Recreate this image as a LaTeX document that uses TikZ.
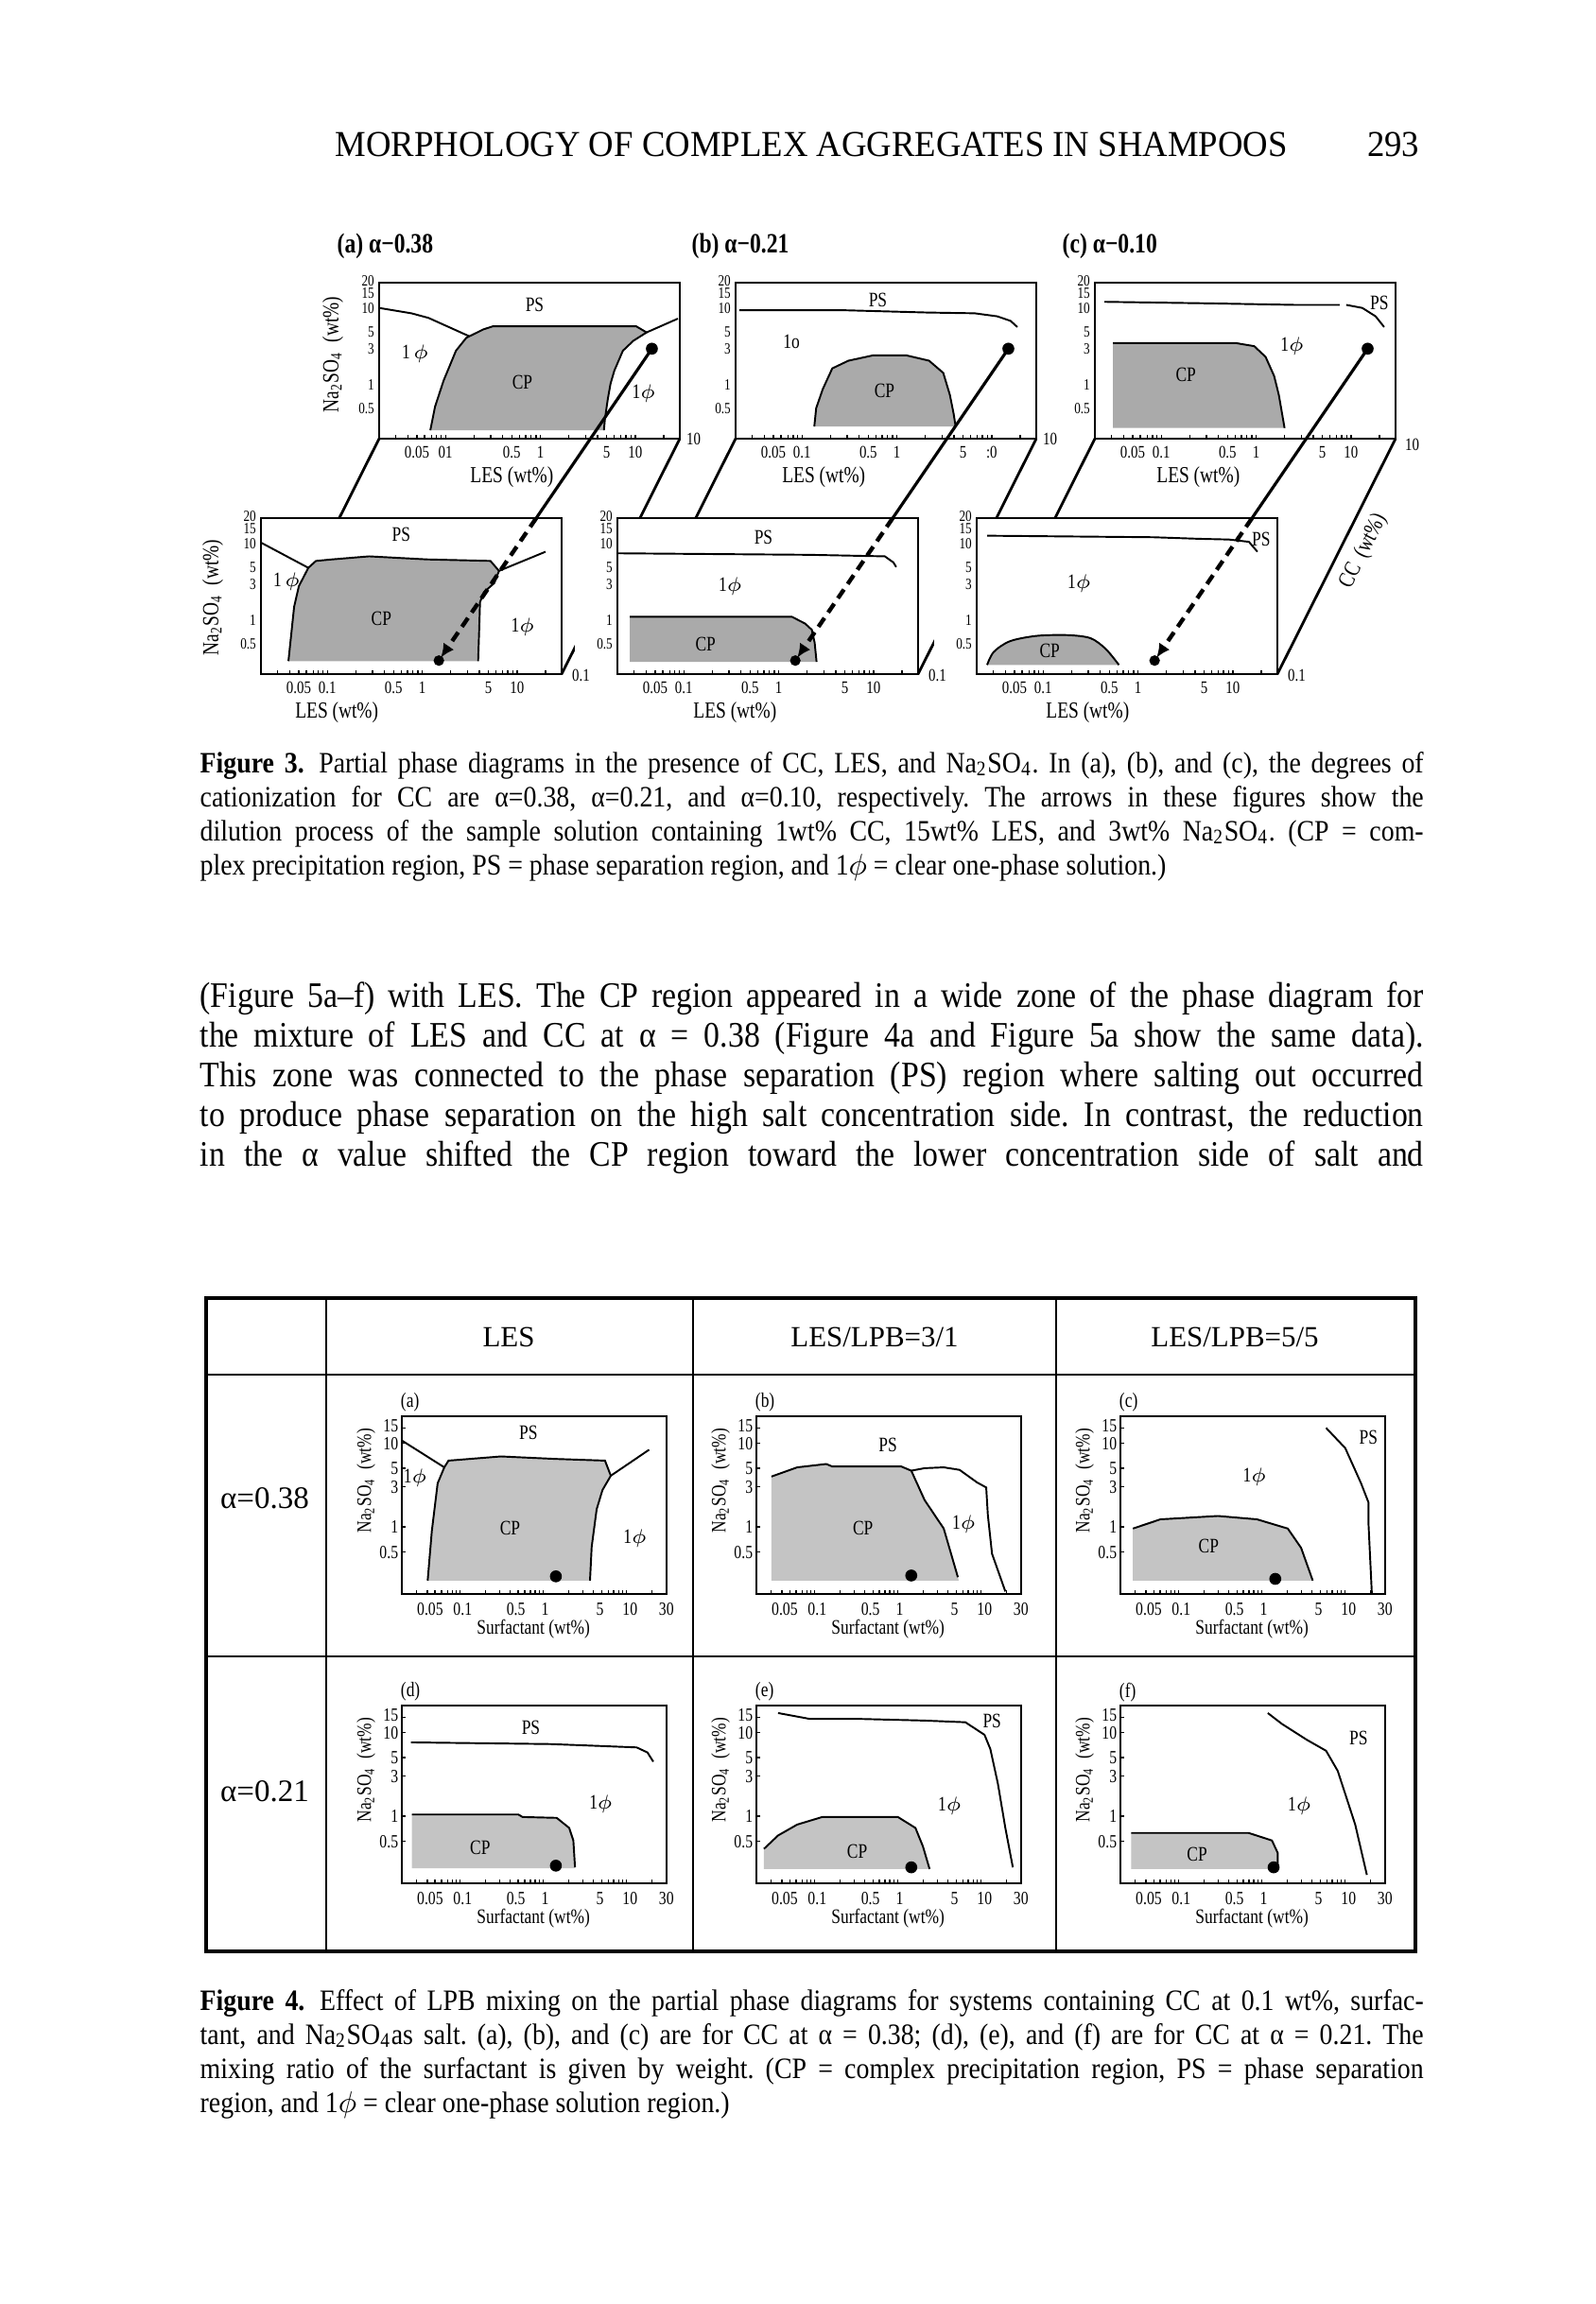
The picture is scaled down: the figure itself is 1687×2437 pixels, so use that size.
\documentclass[tikz,border=0pt]{standalone}
\usepackage{fontspec}
\setmainfont{Liberation Serif}
\newfontfamily\pagefont[FakeStretch=0.89]{Liberation Serif}
\newfontfamily\headfont[FakeStretch=0.95]{Liberation Serif}
\newfontfamily\figfont[FakeStretch=0.8]{Liberation Serif}
\usetikzlibrary{arrows.meta}
\definecolor{cpA}{RGB}{170,170,170}
\definecolor{cpB}{RGB}{196,196,196}
\frenchspacing
\newcommand{\phz}{\ensuremath{\phi}}
\newcommand{\ftxticks}[1]{\foreach \m in {0.02,0.03,0.04,0.05,0.06,0.07,0.08,0.09,0.1,0.2,0.3,0.4,0.5,0.6,0.7,0.8,0.9,1,2,3,4,5,6,7,8,9,10,20,30}{\draw[tickln] ({log10(\m)},#1) -- ++(0,0.05);}}
\newcommand{\fthreebox}{%
 \draw[frm] (-1.7,-0.70) rectangle (1.47,1.34);
 \ftxticks{-0.70}
 \foreach \v/\t in {1.37/20,1.20/15,1.01/10,0.699/5,0.477/3,0/1,-0.301/0.5}{\node[tkl,anchor=east] at (-1.73,\v) {\t};}}
\newcommand{\fthreexl}[1]{\foreach \u/\t in {#1}{\node[tkx,anchor=north] at (\u,-0.78) {\t};}}
\newcommand{\ffourbox}[1]{%
 \draw[frm] (-1.7,-0.80) rectangle (1.48,1.32);
 \ftxticks{-0.80}
 \foreach \v/\t in {1.176/15,1/10,0.699/5,0.477/3,0/1,-0.301/0.5}{\draw[tickln] (-1.7,\v) -- ++(0.05,0);}
 \foreach \v/\t in {1.20/15,0.99/10,0.699/5,0.477/3,0/1,-0.301/0.5}{\node[tkf,anchor=east] at (-1.72,\v) {\t};}
 \foreach \u/\t in {-1.36/0.05,-0.97/0.1,-0.33/0.5,0.02/1,0.68/5,1.04/10,1.477/30}{\node[tkf,anchor=north] at (\u,-0.88) {\t};}
 \node[axt4] at (-0.12,-1.22) {Surfactant (wt\%)};
 \node[axt4,rotate=90] at (-2.13,0.55) {Na\textsubscript{2}SO\textsubscript{4}\ \ (wt\%)};
 \node[axt4,anchor=west] at (-1.72,1.48) {(#1)};}
\begin{document}
\begin{tikzpicture}[x=0.1mm,y=-0.1mm,
 frm/.style={draw,line width=0.65pt},
 bnd/.style={line width=0.55pt},
 tickln/.style={line width=0.4pt},
 tkl/.style={font=\figfont\fontsize{4.7}{5}\selectfont,inner sep=0.4pt},
 tkx/.style={font=\figfont\fontsize{5.3}{6}\selectfont,inner sep=0.4pt},
 tkf/.style={font=\figfont\fontsize{5.6}{6}\selectfont,inner sep=0.4pt},
 reg/.style={font=\figfont\fontsize{6.2}{7}\selectfont,inner sep=0},
 axt/.style={font=\figfont\fontsize{6.9}{8}\selectfont,inner sep=0},
 axt4/.style={font=\figfont\fontsize{6.2}{7}\selectfont,inner sep=0},
 ttl/.style={font=\figfont\bfseries\fontsize{8.4}{9}\selectfont,inner sep=0,anchor=west},
 dep/.style={line width=0.8pt},
 dil/.style={line width=0.9pt},
 dild/.style={line width=1.25pt,dash pattern=on 3.2pt off 2pt,-{Latex[length=4.2pt,width=3.8pt]},shorten >=1pt},
 pgtxt/.style={font=\pagefont\fontsize{10.8}{12}\selectfont,inner sep=0,anchor=base west},
 captxt/.style={font=\pagefont\fontsize{8.9}{10}\selectfont,inner sep=0,anchor=base west},
 hdr/.style={font=\fontsize{8.8}{10}\selectfont,inner sep=0},
 dotf/.style={fill=black}]
\useasboundingbox (0,0) rectangle (1687,2437);
\fill[white] (0,0) rectangle (1687,2437);

% ---------- running head ----------
\node[font=\headfont\fontsize{11}{12}\selectfont,inner sep=0,anchor=base west] (head) at (354,166) {MORPHOLOGY OF COMPLEX AGGREGATES IN SHAMPOOS};
\node[font=\headfont\fontsize{11}{12}\selectfont,inner sep=0,anchor=base east] (pno) at (1502,166) {293};

% ---------- Figure 3 titles ----------
\node[ttl] (ta) at (356,260) {(a) α−0.38};
\node[ttl] (tb) at (731,260) {(b) α−0.21};
\node[ttl] (tc) at (1123,260) {(c) α−0.10};
\node[axt,rotate=90] (ya) at (352,375) {Na\textsubscript{2}SO\textsubscript{4}\ \ (wt\%)};

% upper a
\begin{scope}[shift={(571.5,407.4)},x={(100.32,0)},y={(0,-80.88)}]
 \fill[cpA] (-1.16,-0.59) -- (-1.11,-0.28) -- (-1.02,0.06) -- (-0.89,0.45) -- (-0.78,0.62) -- (-0.60,0.73) -- (-0.50,0.77) -- (1.01,0.77) -- (1.12,0.69) -- (0.98,0.58) -- (0.87,0.45) -- (0.78,0.19) -- (0.74,0.02) -- (0.71,-0.19) -- (0.68,-0.45) -- (0.67,-0.59) -- cycle;
 \draw[bnd] (-1.16,-0.59) -- (-1.11,-0.28) -- (-1.02,0.06) -- (-0.89,0.45) -- (-0.78,0.62) -- (-0.60,0.73) -- (-0.50,0.77) -- (1.01,0.77) -- (1.12,0.69) -- (0.98,0.58) -- (0.87,0.45) -- (0.78,0.19) -- (0.74,0.02) -- (0.71,-0.19) -- (0.68,-0.45) -- (0.67,-0.59);
 \draw[bnd] (-1.70,1.01) -- (-1.36,0.94) -- (-1.18,0.88) -- (-0.75,0.64);
 \draw[bnd] (1.12,0.69) -- (1.45,0.87);
 \fthreebox
 \fthreexl{-1.301/0.05,-1/01,-0.301/0.5,0/1,0.699/5,1/10}
 \node[axt] at (-0.30,-1.2) {LES (wt\%)};
 \node[reg] at (-0.06,1.05) {PS};
 \node[reg] at (-1.32,0.41) {1\,\phz};
 \node[reg] at (-0.19,0.04) {CP};
 \node[reg] at (1.09,-0.11) {1\phz};
 \coordinate (dUa) at (1.176,0.477);
 \coordinate (UaBL) at (-1.7,-0.70); \coordinate (UaBR) at (1.47,-0.70);
 \node[tkx,anchor=west] at (1.52,-0.70) {10};
\end{scope}

% upper b
\begin{scope}[shift={(948.5,407.4)},x={(100.32,0)},y={(0,-80.88)}]
 \fill[cpA] (-0.87,-0.54) -- (-0.85,-0.30) -- (-0.78,-0.05) -- (-0.68,0.22) -- (-0.51,0.32) -- (-0.25,0.39) -- (0.10,0.39) -- (0.34,0.32) -- (0.49,0.16) -- (0.56,-0.13) -- (0.60,-0.38) -- (0.62,-0.54) -- cycle;
 \draw[bnd] (-0.87,-0.54) -- (-0.85,-0.30) -- (-0.78,-0.05) -- (-0.68,0.22) -- (-0.51,0.32) -- (-0.25,0.39) -- (0.10,0.39) -- (0.34,0.32) -- (0.49,0.16) -- (0.56,-0.13) -- (0.60,-0.38) -- (0.62,-0.54);
 \draw[bnd] (-1.66,0.98) -- (-0.56,0.98) -- (0.32,0.95) -- (0.82,0.94) -- (1.06,0.90) -- (1.20,0.84) -- (1.27,0.76);
 \fthreebox
 \fthreexl{-1.301/0.05,-1/0.1,-0.301/0.5,0/1,0.699/5,1/:0}
 \node[axt] at (-0.77,-1.2) {LES (wt\%)};
 \node[reg] at (-0.20,1.11) {PS};
 \node[reg] at (-1.11,0.57) {1o};
 \node[reg] at (-0.13,-0.07) {CP};
 \coordinate (dUb) at (1.176,0.477);
 \coordinate (UbBL) at (-1.7,-0.70); \coordinate (UbBR) at (1.47,-0.70);
 \node[tkx,anchor=west] at (1.52,-0.70) {10};
\end{scope}

% upper c
\begin{scope}[shift={(1328.5,407.4)},x={(100.32,0)},y={(0,-80.88)}]
 \fill[cpA] (-1.51,-0.56) -- (-1.51,0.55) -- (-0.21,0.55) -- (-0.02,0.51) -- (0.10,0.37) -- (0.19,0.12) -- (0.24,-0.13) -- (0.30,-0.56) -- cycle;
 \draw[bnd] (-1.51,0.55) -- (-0.21,0.55) -- (-0.02,0.51) -- (0.10,0.37) -- (0.19,0.12) -- (0.24,-0.13) -- (0.30,-0.56);
 \draw[bnd] (-1.60,1.09) -- (-0.5,1.07) -- (0.40,1.05) -- (0.88,1.05);
 \draw[bnd] (0.95,1.05) -- (1.12,1.01) -- (1.26,0.90) -- (1.35,0.76);
 \fthreebox
 \fthreexl{-1.301/0.05,-1/0.1,-0.301/0.5,0/1,0.699/5,1/10}
 \node[axt] at (-0.61,-1.2) {LES (wt\%)};
 \node[reg] at (1.30,1.07) {PS};
 \node[reg] at (0.38,0.51) {1\phz};
 \node[reg] at (-0.74,0.14) {CP};
 \coordinate (dUc) at (1.176,0.477);
 \coordinate (UcBL) at (-1.7,-0.70); \coordinate (UcBR) at (1.47,-0.70);
 \node[tkx,anchor=west] at (1.55,-0.78) {10};
\end{scope}

% depth lines (back plane to front plane)
\draw[dep] (UaBL) -- (276,713);
\draw[dep] (UaBR) -- (594,713);
\draw[dep] (UbBL) -- (653,713);
\draw[dep] (UbBR) -- (971,713);
\draw[dep] (UcBL) -- (1033,713);
\draw[dep] (UcBR) -- (1351,713);
\node[axt,rotate=63.3] (ccl) at (1442,583) {CC\ \ (wt\%)};

% opaque lower panels
\fill[white] (231,548) rectangle (594,775);
\fill[white] (608,548) rectangle (971,775);
\fill[white] (988,548) rectangle (1351,775);

\node[axt,rotate=90] (yb) at (225,632) {Na\textsubscript{2}SO\textsubscript{4}\ \ (wt\%)};

% lower a
\begin{scope}[shift={(446.5,656.4)},x={(100.32,0)},y={(0,-80.88)}]
 \fill[cpA] (-1.41,-0.53) -- (-1.35,0.18) -- (-1.30,0.45) -- (-1.20,0.69) -- (-1.12,0.78) -- (-0.95,0.80) -- (-0.56,0.84) -- (0.05,0.80) -- (0.72,0.78) -- (0.81,0.65) -- (0.76,0.49) -- (0.65,0.37) -- (0.61,0.24) -- (0.60,-0.16) -- (0.59,-0.53) -- cycle;
 \draw[bnd] (-1.41,-0.53) -- (-1.35,0.18) -- (-1.30,0.45) -- (-1.20,0.69) -- (-1.12,0.78) -- (-0.95,0.80) -- (-0.56,0.84) -- (0.05,0.80) -- (0.72,0.78) -- (0.81,0.65) -- (0.76,0.49) -- (0.65,0.37) -- (0.61,0.24) -- (0.60,-0.16) -- (0.59,-0.53);
 \draw[bnd] (-1.70,1.02) -- (-1.20,0.69);
 \draw[bnd] (0.81,0.65) -- (1.30,0.90);
 \fthreebox
 \fthreexl{-1.301/0.05,-1/0.1,-0.301/0.5,0/1,0.699/5,1/10}
 \node[axt] at (-0.90,-1.2) {LES (wt\%)};
 \node[reg] at (-0.22,1.12) {PS};
 \node[reg] at (-1.43,0.51) {1\,\phz};
 \node[reg] at (-0.43,0.02) {CP};
 \node[reg] at (1.06,-0.08) {1\phz};
 \coordinate (dLa) at (0.176,-0.523);
 \coordinate (LaTL) at (-1.7,1.34); \coordinate (LaTR) at (1.47,1.34);
 \node[tkx,anchor=west] at (1.56,-0.72) {0.1};
\end{scope}

% lower b
\begin{scope}[shift={(823.5,656.4)},x={(100.32,0)},y={(0,-80.88)}]
 \fill[cpA] (-1.57,-0.54) -- (-1.57,0.05) -- (0.14,0.05) -- (0.28,-0.04) -- (0.35,-0.12) -- (0.38,-0.29) -- (0.40,-0.54) -- cycle;
 \draw[bnd] (-1.57,0.05) -- (0.14,0.05) -- (0.28,-0.04) -- (0.35,-0.12) -- (0.38,-0.29) -- (0.40,-0.54);
 \draw[bnd] (-1.70,0.88) -- (0.33,0.86) -- (1.12,0.84) -- (1.21,0.76) -- (1.24,0.70);
 \fthreebox
 \fthreexl{-1.301/0.05,-1/0.1,-0.301/0.5,0/1,0.699/5,1/10}
 \node[axt] at (-0.46,-1.2) {LES (wt\%)};
 \node[reg] at (-0.16,1.09) {PS};
 \node[reg] at (-0.51,0.45) {1\phz};
 \node[reg] at (-0.77,-0.31) {CP};
 \coordinate (dLb) at (0.176,-0.523);
 \coordinate (LbTL) at (-1.7,1.34); \coordinate (LbTR) at (1.47,1.34);
 \node[tkx,anchor=west] at (1.56,-0.72) {0.1};
\end{scope}

% lower c
\begin{scope}[shift={(1203.5,656.4)},x={(100.32,0)},y={(0,-80.88)}]
 \fill[cpA] plot[smooth] coordinates {(-1.59,-0.58) (-1.52,-0.41) (-1.35,-0.27) (-1.07,-0.20) (-0.74,-0.19) (-0.50,-0.23) (-0.34,-0.37) (-0.20,-0.58)} -- cycle;
 \draw[bnd] plot[smooth] coordinates {(-1.59,-0.58) (-1.52,-0.41) (-1.35,-0.27) (-1.07,-0.20) (-0.74,-0.19) (-0.50,-0.23) (-0.34,-0.37) (-0.20,-0.58)};
 \draw[bnd] (-1.59,1.11) -- (0.16,1.09) -- (0.63,1.07) -- (0.96,1.06) -- (1.17,1.03) -- (1.26,0.90);
 \fthreebox
 \fthreexl{-1.301/0.05,-1/0.1,-0.301/0.5,0/1,0.699/5,1/10}
 \node[axt] at (-0.53,-1.2) {LES (wt\%)};
 \node[reg] at (1.30,1.06) {PS};
 \node[reg] at (-0.62,0.49) {1\phz};
 \node[reg] at (-0.93,-0.39) {CP};
 \coordinate (dLc) at (0.176,-0.523);
 \coordinate (LcTL) at (-1.7,1.34); \coordinate (LcTR) at (1.47,1.34);
 \node[tkx,anchor=west] at (1.56,-0.72) {0.1};
\end{scope}

% dilution paths
\coordinate (xa) at (intersection of dUa--dLa and LaTL--LaTR);
\coordinate (xb) at (intersection of dUb--dLb and LbTL--LbTR);
\coordinate (xc) at (intersection of dUc--dLc and LcTL--LcTR);
\draw[dil] (dUa) -- (xa); \draw[dild] (xa) -- (dLa);
\draw[dil] (dUb) -- (xb); \draw[dild] (xb) -- (dLb);
\draw[dil] (dUc) -- (xc); \draw[dild] (xc) -- (dLc);
\foreach \d in {dUa,dUb,dUc}{\fill[dotf] (\d) circle[radius=1.8pt];}
\foreach \d in {dLa,dLb,dLc}{\fill[dotf] (\d) circle[radius=1.6pt];}

% ---------- Figure 3 caption ----------
\node[captxt] (c31) at (211,817) {\hbox to 129.4mm{\textbf{Figure 3.}\enspace Partial phase diagrams in the presence of CC, LES, and Na\textsubscript{2}SO\textsubscript{4}. In (a), (b), and (c), the degrees of}};
\node[captxt] (c32) at (211,853) {\hbox to 129.4mm{cationization for CC are α=0.38, α=0.21, and α=0.10, respectively. The arrows in these figures show the}};
\node[captxt] (c33) at (211,889) {\hbox to 129.4mm{dilution process of the sample solution containing 1wt\% CC, 15wt\% LES, and 3wt\% Na\textsubscript{2}SO\textsubscript{4}. (CP = com-}};
\node[captxt] (c34) at (211,925) {plex precipitation region, PS = phase separation region, and 1\phz{} = clear one-phase solution.)};

% ---------- body text ----------
\node[pgtxt] (b1) at (211,1065) {\hbox to 129.4mm{(Figure 5a–f) with LES. The CP region appeared in a wide zone of the phase diagram for}};
\node[pgtxt] (b2) at (211,1107) {\hbox to 129.4mm{the mixture of LES and CC at α = 0.38 (Figure 4a and Figure 5a show the same data).}};
\node[pgtxt] (b3) at (211,1149) {\hbox to 129.4mm{This zone was connected to the phase separation (PS) region where salting out occurred}};
\node[pgtxt] (b4) at (211,1191) {\hbox to 129.4mm{to produce phase separation on the high salt concentration side. In contrast, the reduction}};
\node[pgtxt] (b5) at (211,1233) {\hbox to 129.4mm{in the α value shifted the CP region toward the lower concentration side of salt and}};

% ---------- Figure 4 table ----------
\draw[line width=1.3pt] (218,1373) rectangle (1497,2064);
\draw[line width=0.7pt] (345,1373) -- (345,2064);
\draw[line width=0.7pt] (733,1373) -- (733,2064);
\draw[line width=0.7pt] (1117,1373) -- (1117,2064);
\draw[line width=0.8pt] (218,1454) -- (1497,1454);
\draw[line width=0.8pt] (218,1752) -- (1497,1752);
\node[hdr] (h1) at (538,1414) {LES};
\node[hdr] (h2) at (925,1414) {LES/LPB=3/1};
\node[hdr] (h3) at (1306,1414) {LES/LPB=5/5};
\node[hdr,font=\fontsize{9.4}{11}\selectfont] (r1) at (280,1585) {α=0.38};
\node[hdr,font=\fontsize{9.4}{11}\selectfont] (r2) at (280,1895) {α=0.21};

% (a)
\begin{scope}[shift={(574.7,1615)},x={(88.05,0)},y={(0,-88.7)}]
 \fill[cpB] (-1.39,-0.64) -- (-1.34,-0.05) -- (-1.27,0.52) -- (-1.19,0.71) -- (-1.14,0.79) -- (-0.51,0.84) -- (0.15,0.81) -- (0.74,0.79) -- (0.81,0.61) -- (0.71,0.44) -- (0.64,0.21) -- (0.58,-0.24) -- (0.56,-0.64) -- cycle;
 \draw[bnd] (-1.39,-0.64) -- (-1.34,-0.05) -- (-1.27,0.52) -- (-1.19,0.71) -- (-1.14,0.79) -- (-0.51,0.84) -- (0.15,0.81) -- (0.74,0.79) -- (0.81,0.61) -- (0.71,0.44) -- (0.64,0.21) -- (0.58,-0.24) -- (0.56,-0.64);
 \draw[bnd] (-1.70,1.03) -- (-1.19,0.71);
 \draw[bnd] (0.81,0.61) -- (1.27,0.92);
 \ffourbox{a}
 \node[reg] at (-0.18,1.12) {PS};
 \node[reg] at (-1.54,0.58) {1\phz};
 \node[reg] at (-0.40,-0.02) {CP};
 \node[reg] at (1.10,-0.14) {1\phz};
 \fill[dotf] (0.15,-0.59) circle[radius=1.8pt];
\end{scope}

% (b)
\begin{scope}[shift={(949.7,1615)},x={(88.05,0)},y={(0,-88.7)}]
 \fill[cpB] (-1.52,-0.64) -- (-1.52,0.60) -- (-1.21,0.71) -- (-0.86,0.75) -- (-0.79,0.72) -- (0.04,0.72) -- (0.16,0.67) -- (0.32,0.32) -- (0.55,-0.02) -- (0.72,-0.60) -- (0.73,-0.64) -- cycle;
 \draw[bnd] (-1.52,0.60) -- (-1.21,0.71) -- (-0.86,0.75) -- (-0.79,0.72) -- (0.04,0.72) -- (0.16,0.67) -- (0.32,0.32) -- (0.55,-0.02) -- (0.72,-0.60);
 \draw[bnd] (0.16,0.67) -- (0.32,0.70) -- (0.55,0.71) -- (0.74,0.68) -- (0.95,0.53) -- (1.06,0.47) -- (1.08,0.14) -- (1.13,-0.32) -- (1.29,-0.77);
 \ffourbox{b}
 \node[reg] at (-0.12,0.98) {PS};
 \node[reg] at (-0.42,-0.02) {CP};
 \node[reg] at (0.79,0.03) {1\phz};
 \fill[dotf] (0.16,-0.58) circle[radius=1.8pt];
\end{scope}

% (c)
\begin{scope}[shift={(1334.7,1615)},x={(88.05,0)},y={(0,-88.7)}]
 \fill[cpB] (-1.55,-0.64) -- (-1.55,-0.02) -- (-1.22,0.09) -- (-0.53,0.13) -- (-0.06,0.09) -- (0.31,-0.02) -- (0.47,-0.25) -- (0.61,-0.64) -- cycle;
 \draw[bnd] (-1.55,-0.02) -- (-1.22,0.09) -- (-0.53,0.13) -- (-0.06,0.09) -- (0.31,-0.02) -- (0.47,-0.25) -- (0.61,-0.64);
 \draw[bnd] (0.77,1.18) -- (1.00,0.94) -- (1.19,0.52) -- (1.28,0.29) -- (1.28,0.03) -- (1.32,-0.80);
 \ffourbox{c}
 \node[reg] at (1.28,1.07) {PS};
 \node[reg] at (-0.09,0.59) {1\phz};
 \node[reg] at (-0.64,-0.23) {CP};
 \fill[dotf] (0.16,-0.62) circle[radius=1.8pt];
\end{scope}

% (d)
\begin{scope}[shift={(574.7,1921)},x={(88.05,0)},y={(0,-88.7)}]
 \fill[cpB] (-1.58,-0.62) -- (-1.58,0.02) -- (-0.30,0.02) -- (-0.25,-0.01) -- (0.16,-0.02) -- (0.31,-0.14) -- (0.36,-0.29) -- (0.38,-0.62) -- cycle;
 \draw[bnd] (-1.58,0.02) -- (-0.30,0.02) -- (-0.25,-0.01) -- (0.16,-0.02) -- (0.31,-0.14) -- (0.36,-0.29) -- (0.38,-0.61);
 \draw[bnd] (-1.59,0.88) -- (0.08,0.86) -- (0.61,0.84) -- (1.12,0.82) -- (1.25,0.76) -- (1.32,0.65);
 \ffourbox{d}
 \node[reg] at (-0.15,1.06) {PS};
 \node[reg] at (0.69,0.14) {1\phz};
 \node[reg] at (-0.76,-0.38) {CP};
 \fill[dotf] (0.15,-0.59) circle[radius=1.8pt];
\end{scope}

% (e)
\begin{scope}[shift={(949.7,1921)},x={(88.05,0)},y={(0,-88.7)}]
 \fill[cpB] (-1.61,-0.63) -- (-1.61,-0.39) -- (-1.44,-0.23) -- (-1.21,-0.10) -- (-0.91,-0.01) -- (0.00,-0.01) -- (0.21,-0.14) -- (0.30,-0.36) -- (0.38,-0.63) -- cycle;
 \draw[bnd] (-1.61,-0.39) -- (-1.44,-0.23) -- (-1.21,-0.10) -- (-0.91,-0.01) -- (0.00,-0.01) -- (0.21,-0.14) -- (0.30,-0.36) -- (0.38,-0.63);
 \draw[bnd] (-1.44,1.23) -- (-1.06,1.16) -- (-0.47,1.16) -- (0.32,1.14) -- (0.81,1.12) -- (1.04,0.97) -- (1.11,0.80) -- (1.20,0.39) -- (1.29,-0.14) -- (1.38,-0.61);
 \ffourbox{e}
 \node[reg] at (1.13,1.14) {PS};
 \node[reg] at (0.62,0.12) {1\phz};
 \node[reg] at (-0.49,-0.42) {CP};
 \fill[dotf] (0.16,-0.61) circle[radius=1.8pt];
\end{scope}

% (f)
\begin{scope}[shift={(1334.7,1921)},x={(88.05,0)},y={(0,-88.7)}]
 \fill[cpB] (-1.57,-0.63) -- (-1.57,-0.20) -- (-0.16,-0.20) -- (0.12,-0.29) -- (0.19,-0.44) -- (0.19,-0.63) -- cycle;
 \draw[bnd] (-1.57,-0.20) -- (-0.16,-0.20) -- (0.12,-0.29) -- (0.19,-0.44) -- (0.19,-0.62);
 \draw[bnd] (0.07,1.23) -- (0.24,1.10) -- (0.54,0.91) -- (0.77,0.78) -- (0.91,0.54) -- (1.12,-0.10) -- (1.26,-0.70);
 \ffourbox{f}
 \node[reg] at (1.16,0.93) {PS};
 \node[reg] at (0.45,0.12) {1\phz};
 \node[reg] at (-0.78,-0.46) {CP};
 \fill[dotf] (0.14,-0.61) circle[radius=1.8pt];
\end{scope}

% ---------- Figure 4 caption ----------
\node[captxt] (c41) at (211,2126) {\hbox to 129.4mm{\textbf{Figure 4.}\enspace Effect of LPB mixing on the partial phase diagrams for systems containing CC at 0.1 wt\%, surfac-}};
\node[captxt] (c42) at (211,2162) {\hbox to 129.4mm{tant, and Na\textsubscript{2}SO\textsubscript{4}as salt. (a), (b), and (c) are for CC at α = 0.38; (d), (e), and (f) are for CC at α = 0.21. The}};
\node[captxt] (c43) at (211,2198) {\hbox to 129.4mm{mixing ratio of the surfactant is given by weight. (CP = complex precipitation region, PS = phase separation}};
\node[captxt] (c44) at (211,2234) {region, and 1\phz{} = clear one-phase solution region.)};
\end{tikzpicture}
\end{document}
